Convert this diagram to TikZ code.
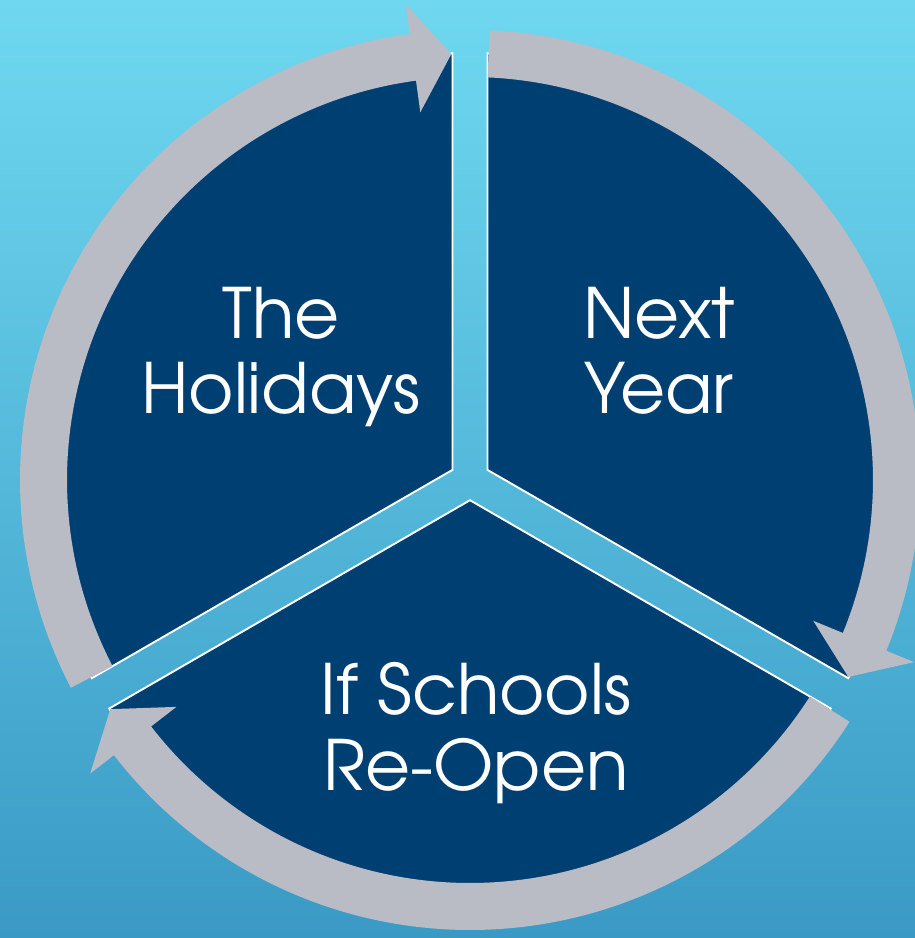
\documentclass[tikz,border=0pt]{standalone}
\usepackage{fontspec}
\setmainfont{texgyreadventor-regular.otf}
\usepackage{xcolor}
\usetikzlibrary{calc}

\definecolor{navy}{HTML}{003F72}
\definecolor{ringgray}{HTML}{B9BBC5}
\definecolor{bgtop}{HTML}{6FD8F0}
\definecolor{bgbot}{HTML}{3A9AC5}

\tikzset{
    piece/.style={fill=navy, draw=white, line width=1.1pt, line join=miter},
    ringpiece/.style={fill=ringgray},
    cyclelabel/.style={text=white, align=center, inner sep=0pt,
        font=\fontsize{39.5}{42.7}\selectfont}
}

% one slice of the pie, between angles #1 and #2
\newcommand{\pieslice}[2]{%
    \filldraw[piece] ({(#1+#2)/2}:0.404) -- ({#2-2.35}:8.54)
        arc[start angle={#2-2.35}, end angle={#1+2.35}, radius=8.54] -- cycle;}
% grey arrow round a slice, tail near #2, head near #1
\newcommand{\ringarrow}[2]{%
    \fill[ringpiece] ({#2-2.5}:9.0)
        arc[start angle={#2-2.5}, end angle={#1+7.7}, radius=9.0]
        -- ({#1+7.7}:9.6) -- ({#1+2.5}:8.53) -- ({#1+7.7}:7.42)
        -- ({#1+7.7}:8.06)
        arc[start angle={#1+7.7}, end angle={#2-2.5}, radius=8.06] -- cycle;}

\begin{document}
\begin{tikzpicture}
    \shade[top color=bgtop, bottom color=bgbot] (-9.4,-9.16) rectangle (8.9,9.6);
    \useasboundingbox (-9.4,-9.16) rectangle (8.9,9.6);

    \pieslice{90}{210}
    \pieslice{-30}{90}
    \pieslice{210}{330}

    \ringarrow{90}{210}
    \ringarrow{-30}{90}
    \ringarrow{210}{330}

    % base anchor sits on the last line
    \node[cyclelabel, anchor=base] (holidays) at (-3.78,1.32) {The\\Holidays};
    \node[cyclelabel, anchor=base] (nextyear) at (3.78,1.32) {Next\\Year};
    \node[cyclelabel, anchor=base] (schools) at (0.12,-6.2) {If Schools\\Re-Open};
\end{tikzpicture}
\end{document}
